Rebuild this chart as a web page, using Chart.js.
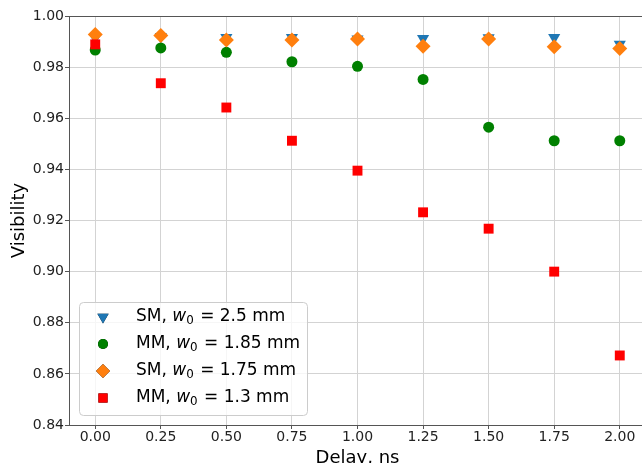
<!DOCTYPE html>
<html>
<head>
<meta charset="utf-8">
<script src="https://cdn.jsdelivr.net/npm/chart.js@4/dist/chart.umd.min.js"></script>
<style>
  html, body { margin: 0; padding: 0; background: #fff; overflow: hidden; }
  #wrap { width: 660px; height: 480px; }
</style>
</head>
<body>
<div id="wrap"><canvas id="myChart" width="660" height="480"></canvas></div>
<script>
// delay values (ns) and measured visibilities
var delays = [0, 0.25, 0.5, 0.75, 1.0, 1.25, 1.5, 1.75, 2.0];
var sm25 = [0.9915, 0.992, 0.9916, 0.9916, 0.991, 0.9912, 0.9915, 0.9916, 0.9889];
var mm185 = [0.9867, 0.9875, 0.9858, 0.9821, 0.9803, 0.9752, 0.9565, 0.9512, 0.9512];
var sm175 = [0.9928, 0.9924, 0.9906, 0.9906, 0.991, 0.9882, 0.991, 0.988, 0.9873];
var mm13 = [0.9889, 0.9737, 0.9642, 0.9512, 0.9395, 0.9232, 0.9168, 0.900, 0.8672];

// legend texts: prefix, w0 value
var labelPrefix = ['SM, ', 'MM, ', 'SM, ', 'MM, '];
var labelValue = [' = 2.5 mm', ' = 1.85 mm', ' = 1.75 mm', ' = 1.3 mm'];

function pts(ys) {
    return delays.map(function (d, i) { return { x: d, y: ys[i] }; });
}

var styles = [
    { c: '#1f77b4', shape: 'triangle', r: 7, rot: 180 },
    { c: 'green', shape: 'circle', r: 5.5, rot: 0 },
    { c: '#ff7f0e', shape: 'rectRot', r: 7.5, rot: 0 },
    { c: 'red', shape: 'rect', r: 7, rot: 0 }
];
var series = [sm25, mm185, sm175, mm13];

var datasets = series.map(function (s, i) {
    return {
        label: labelPrefix[i] + 'w0' + labelValue[i],
        data: pts(s),
        pointStyle: styles[i].shape,
        pointRadius: styles[i].r,
        pointHoverRadius: styles[i].r,
        pointRotation: styles[i].rot,
        backgroundColor: styles[i].c,
        borderColor: styles[i].c,
        borderWidth: 0,
        order: 4 - i
    };
});

// matplotlib-like legend with italic w and subscript 0
var mplLegend = {
    id: 'mplLegend',
    afterDraw: function (chart) {
        var ctx = chart.ctx;
        ctx.save();
        ctx.beginPath();
        ctx.roundRect(79.5, 302.5, 228, 113, 4);
        ctx.fillStyle = 'rgba(255,255,255,0.8)';
        ctx.fill();
        ctx.strokeStyle = '#cccccc';
        ctx.lineWidth = 1;
        ctx.stroke();

        var rows = [317, 344, 371, 398];
        var fs = 17;
        ctx.textBaseline = 'middle';
        ctx.fillStyle = '#000';
        for (var i = 0; i < 4; i++) {
            var y = rows[i];
            Chart.helpers.drawPoint(ctx, {
                pointStyle: styles[i].shape,
                radius: styles[i].r - 0.5,
                rotation: styles[i].rot,
                borderWidth: 0
            }, 103, y);
            ctx.fillStyle = styles[i].c;
            ctx.fill();
            ctx.fillStyle = '#000';
            var x = 136;
            ctx.font = fs + 'px "DejaVu Sans"';
            ctx.fillText(labelPrefix[i], x, y);
            x += ctx.measureText(labelPrefix[i]).width;
            ctx.font = 'italic ' + fs + 'px "DejaVu Sans"';
            ctx.fillText('w', x, y);
            x += ctx.measureText('w').width;
            ctx.font = (fs * 0.7) + 'px "DejaVu Sans"';
            ctx.fillText('0', x, y + 4);
            x += ctx.measureText('0').width;
            ctx.font = fs + 'px "DejaVu Sans"';
            ctx.fillText(labelValue[i], x + 1, y);
        }
        ctx.restore();
    }
};

// top spine
var topSpine = {
    id: 'topSpine',
    afterDatasetsDraw: function (chart) {
        var a = chart.chartArea, ctx = chart.ctx;
        ctx.save();
        ctx.strokeStyle = '#555';
        ctx.lineWidth = 1;
        ctx.beginPath();
        ctx.moveTo(a.left, a.top + 0.5);
        ctx.lineTo(a.right, a.top + 0.5);
        ctx.stroke();
        ctx.restore();
    }
};

var ctx = document.getElementById('myChart').getContext('2d');
var chart = new Chart(ctx, {
    type: 'scatter',
    data: { datasets: datasets },
    plugins: [topSpine, mplLegend],
    options: {
        responsive: false,
        animation: false,
        layout: { padding: { left: 0, top: 16, right: 14, bottom: 0 } },
        plugins: { legend: { display: false }, tooltip: { enabled: false } },
        scales: {
            x: {
                type: 'linear',
                min: -0.1,
                max: 2.1,
                afterFit: function (s) { s.height = 55; },
                ticks: {
                    stepSize: 0.25,
                    includeBounds: false,
                    padding: 0,
                    color: '#222',
                    font: { family: 'DejaVu Sans', size: 14 },
                    maxRotation: 0,
                    callback: function (v) { return v.toFixed(2); }
                },
                grid: { color: '#d3d3d3', tickColor: '#555', tickLength: 4 },
                border: { color: '#555' },
                title: {
                    display: true,
                    text: 'Delay, ns',
                    color: '#000',
                    font: { family: 'DejaVu Sans', size: 18 },
                    padding: { top: 0, bottom: 11 }
                }
            },
            y: {
                min: 0.84,
                max: 1.0,
                afterFit: function (s) { s.width = 69; },
                ticks: {
                    stepSize: 0.02,
                    includeBounds: false,
                    padding: 1,
                    color: '#222',
                    font: { family: 'DejaVu Sans', size: 14 },
                    callback: function (v) { return v.toFixed(2); }
                },
                grid: { color: '#d3d3d3', tickColor: '#555', tickLength: 4 },
                border: { color: '#555' },
                title: {
                    display: true,
                    text: 'Visibility',
                    color: '#000',
                    font: { family: 'DejaVu Sans', size: 18 },
                    padding: { top: 9, bottom: 0 }
                }
            }
        }
    }
});
</script>
</body>
</html>
